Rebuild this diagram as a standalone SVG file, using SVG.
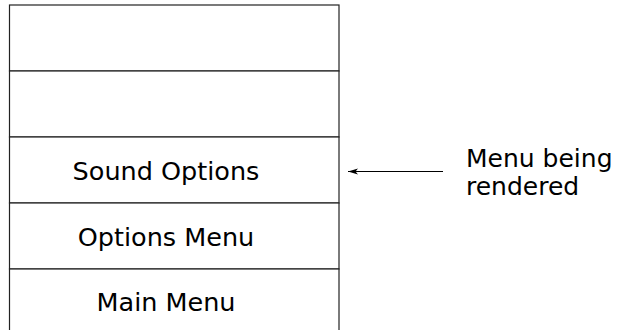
<svg xmlns="http://www.w3.org/2000/svg" width="619" height="330" viewBox="0 0 619 330">
<defs>
<style>
.cell{fill:#fff;stroke:#222;stroke-width:1.2}
.lbl{font-family:"DejaVu Sans",sans-serif;font-size:25.5px;fill:#000;text-anchor:middle}
.note{font-family:"DejaVu Sans",sans-serif;font-size:25px;fill:#000}
.conn{stroke:#000;stroke-width:1.2;fill:none}
</style>
<marker id="arrow" viewBox="0 0 10 8" refX="10" refY="4" markerWidth="10" markerHeight="8" markerUnits="userSpaceOnUse" orient="auto">
<path d="M0,1 L10,4 L0,7 L2.5,4 Z" fill="#000"/>
</marker>
</defs>
<rect width="619" height="330" fill="#fff"/>
<g id="cell-empty-1"><rect class="cell" x="9.5" y="5" width="329.5" height="66"/></g>
<g id="cell-empty-2"><rect class="cell" x="9.5" y="71" width="329.5" height="66"/></g>
<g id="cell-sound-options"><rect class="cell" x="9.5" y="137" width="329.5" height="66"/><text class="lbl" x="166" y="179.5">Sound Options</text></g>
<g id="cell-options-menu"><rect class="cell" x="9.5" y="203" width="329.5" height="66"/><text class="lbl" x="166" y="245.5">Options Menu</text></g>
<g id="cell-main-menu"><rect class="cell" x="9.5" y="269" width="329.5" height="70"/><text class="lbl" x="166" y="311">Main Menu</text></g>
<g id="note-rendering"><text class="note" x="466" y="167">Menu being</text><text class="note" x="466" y="195">rendered</text></g>
<g id="connectors"><line class="conn" x1="443" y1="171.5" x2="348" y2="171.5" marker-end="url(#arrow)"/></g>
</svg>
